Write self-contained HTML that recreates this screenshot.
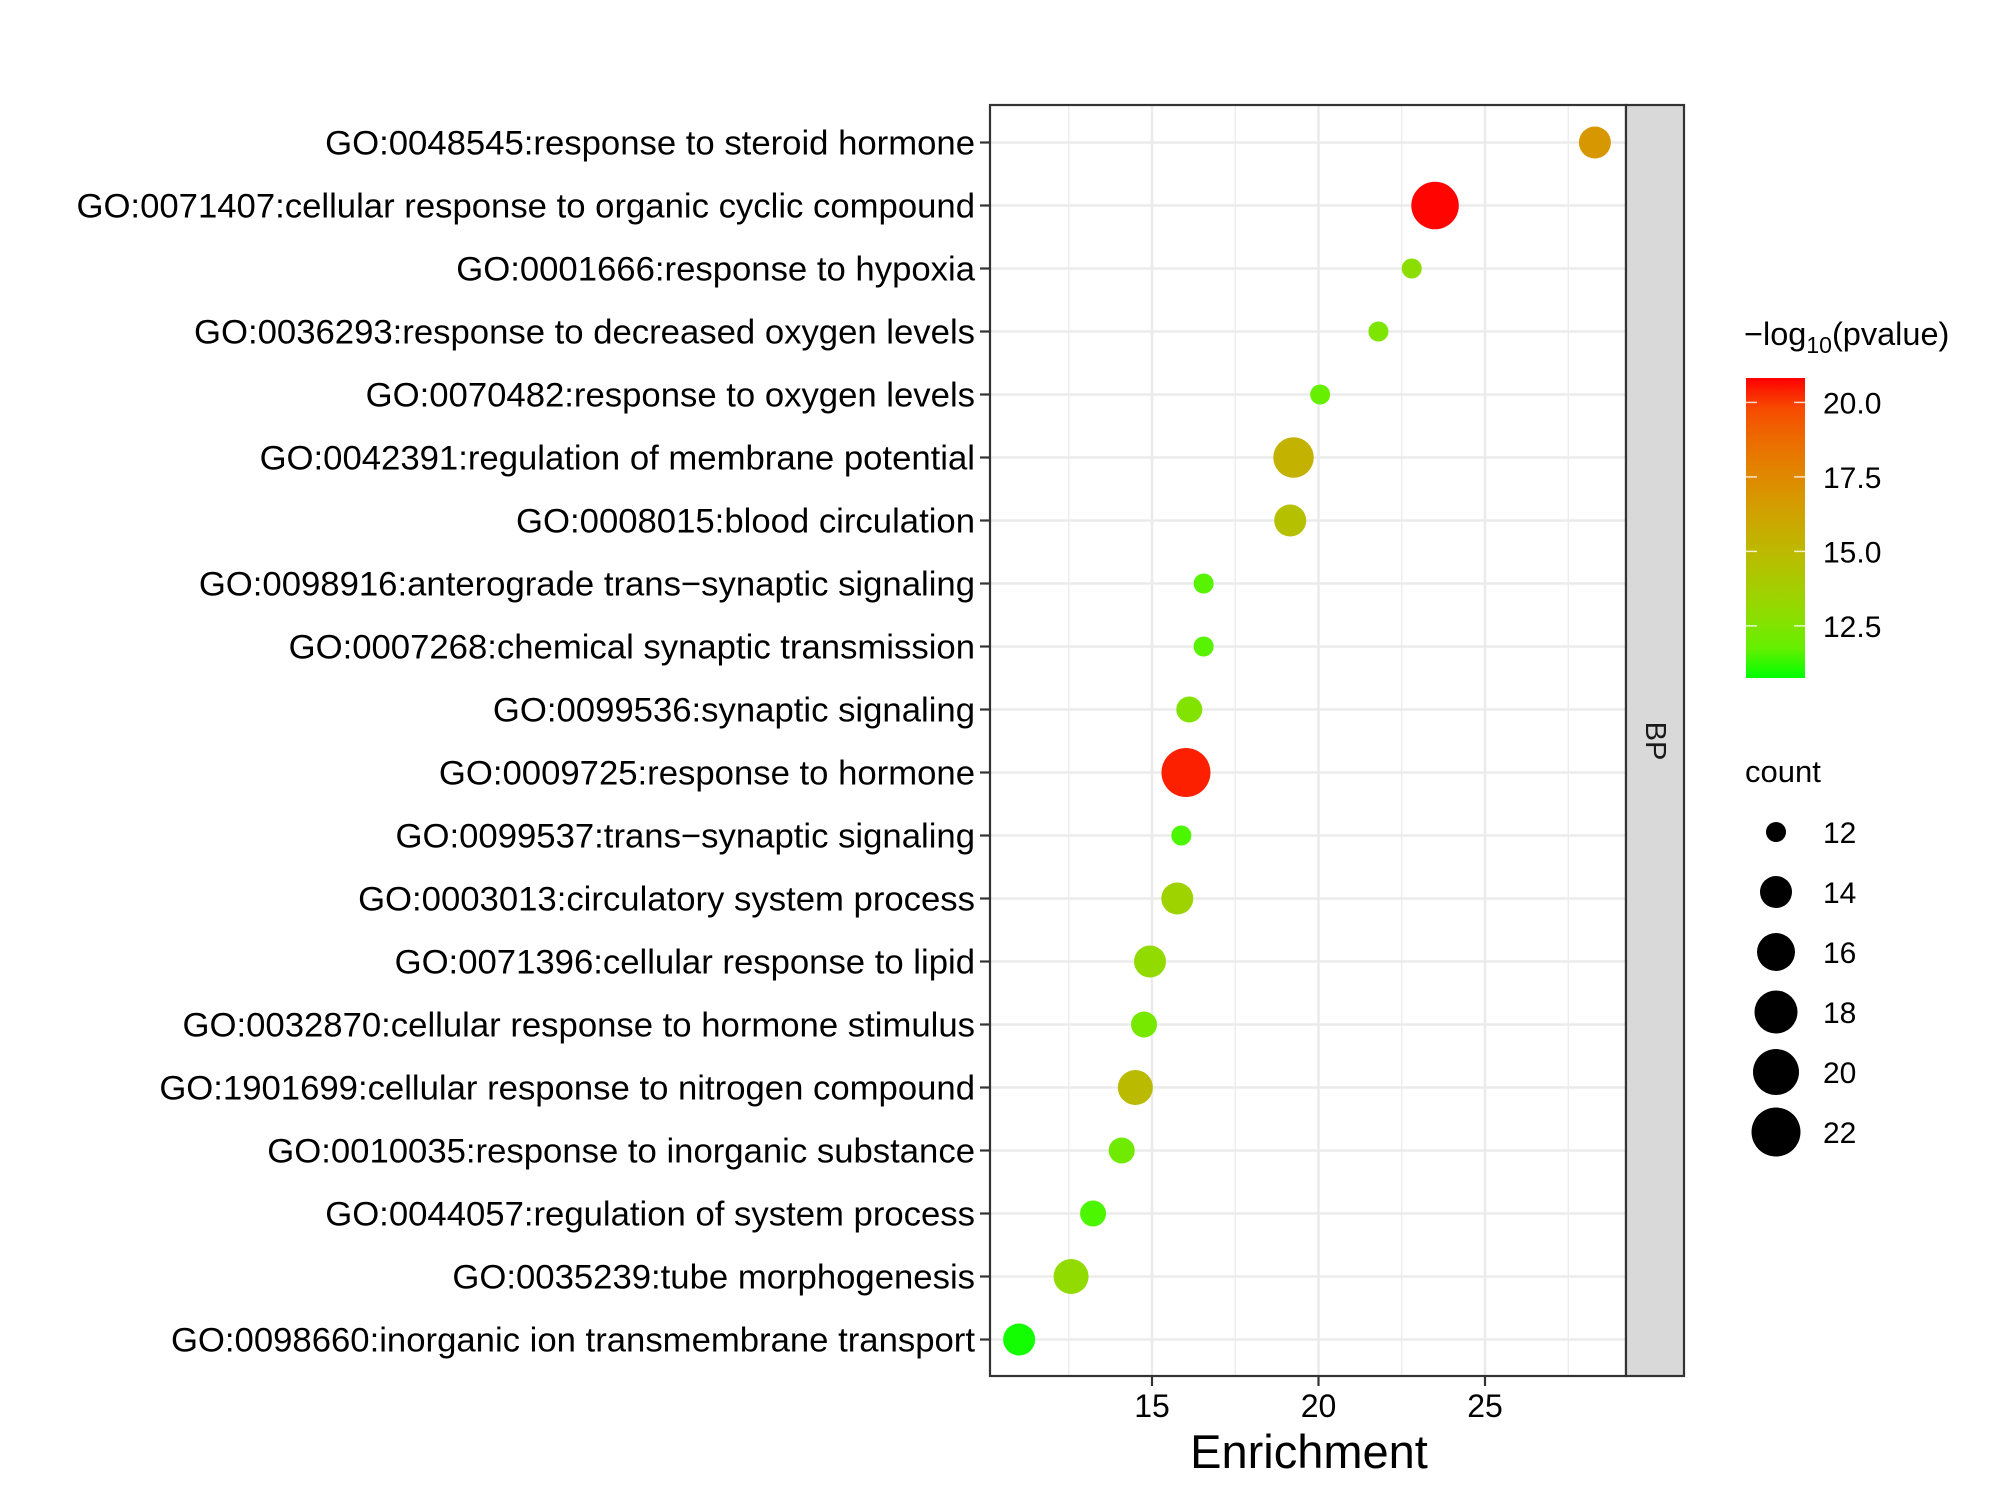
<!DOCTYPE html>
<html><head><meta charset="utf-8"><style>
html,body{margin:0;padding:0;background:#fff}
svg{display:block;font-family:"Liberation Sans",Arial,sans-serif}
</style></head><body>
<svg id="chart" width="2000" height="1500" viewBox="0 0 2000 1500" xmlns="http://www.w3.org/2000/svg">
<rect x="0" y="0" width="2000" height="1500" fill="#fff"/>
<g id="grid"></g>
<g id="points"></g>
<g id="axes"></g>
<g id="legend"></g>
</svg>
<script>
const terms = [
"GO:0048545:response to steroid hormone",
"GO:0071407:cellular response to organic cyclic compound",
"GO:0001666:response to hypoxia",
"GO:0036293:response to decreased oxygen levels",
"GO:0070482:response to oxygen levels",
"GO:0042391:regulation of membrane potential",
"GO:0008015:blood circulation",
"GO:0098916:anterograde trans\u2212synaptic signaling",
"GO:0007268:chemical synaptic transmission",
"GO:0099536:synaptic signaling",
"GO:0009725:response to hormone",
"GO:0099537:trans\u2212synaptic signaling",
"GO:0003013:circulatory system process",
"GO:0071396:cellular response to lipid",
"GO:0032870:cellular response to hormone stimulus",
"GO:1901699:cellular response to nitrogen compound",
"GO:0010035:response to inorganic substance",
"GO:0044057:regulation of system process",
"GO:0035239:tube morphogenesis",
"GO:0098660:inorganic ion transmembrane transport"];
const enrichment = [28.3,23.5,22.8,21.8,20.05,19.25,19.15,16.55,16.55,16.12,16.02,15.88,15.76,14.94,14.76,14.5,14.09,13.23,12.57,11.01];
const counts = [14,21,12,12,12,17,14,12,12,13,22,12,14,14,13,15,13,13,15,14];
const pvals = [16.8,20.8,12.8,12.4,11.8,15.4,14.6,11.5,11.5,12.5,20.6,11.3,13.5,13.0,12.2,14.9,12.0,11.3,13.0,10.8];
const xTicks = [15,20,25];
const colorTicks = [20.0,17.5,15.0,12.5];
const sizeTicks = [12,14,16,18,20,22];
const sizeRadii = [10,16,19,21.5,23,24.5];

const NS="http://www.w3.org/2000/svg";
function mk(tag, attrs, parent, text){const e=document.createElementNS(NS,tag);for(const k in attrs)e.setAttribute(k,attrs[k]);if(text!==undefined)e.textContent=text;parent.appendChild(e);return e;}
const P={l:990,r:1626,t:105,b:1376};
const unit=33.3;
const xS=v=>1152+(v-15)*unit;
const yS=i=>142.5+i*63.0;
const cMin=10.75,cMax=20.82;
const cbTop=378,cbBot=678;
const cY=v=>cbBot-(v-cMin)/(cMax-cMin)*(cbBot-cbTop);
function rS(c){if(c<=sizeTicks[0])return sizeRadii[0]-(sizeTicks[0]-c)*3;for(let i=1;i<sizeTicks.length;i++){if(c<=sizeTicks[i]){const t=(c-sizeTicks[i-1])/(sizeTicks[i]-sizeTicks[i-1]);return sizeRadii[i-1]+t*(sizeRadii[i]-sizeRadii[i-1]);}}return sizeRadii[sizeRadii.length-1];}
function srgb2lin(c){c/=255;return c<=0.04045?c/12.92:Math.pow((c+0.055)/1.055,2.4);}
function lin2srgb(c){c=c<=0.0031308?12.92*c:1.055*Math.pow(c,1/2.4)-0.055;return Math.max(0,Math.min(255,Math.round(c*255)));}
function toLab(r,g,b){r=srgb2lin(r);g=srgb2lin(g);b=srgb2lin(b);let X=(0.4124*r+0.3576*g+0.1805*b)/0.95047,Y=0.2126*r+0.7152*g+0.0722*b,Z=(0.0193*r+0.1192*g+0.9505*b)/1.08883;const f=t=>t>0.008856?Math.cbrt(t):7.787*t+16/116;const fx=f(X),fy=f(Y),fz=f(Z);return[116*fy-16,500*(fx-fy),200*(fy-fz)];}
function fromLab(L,a,b){const fy=(L+16)/116,fx=fy+a/500,fz=fy-b/200;const inv=t=>t*t*t>0.008856?t*t*t:(t-16/116)/7.787;const X=inv(fx)*0.95047,Y=inv(fy),Z=inv(fz)*1.08883;const r=3.2406*X-1.5372*Y-0.4986*Z,g=-0.9689*X+1.8758*Y+0.0415*Z,bb=0.0557*X-0.2040*Y+1.0570*Z;return `rgb(${lin2srgb(r)},${lin2srgb(g)},${lin2srgb(bb)})`;}
const LG=toLab(0,255,0),LR=toLab(255,0,0);
function col(v){let t=(v-cMin)/(cMax-cMin);t=Math.max(0,Math.min(1,t));return fromLab(LG[0]+t*(LR[0]-LG[0]),LG[1]+t*(LR[1]-LG[1]),LG[2]+t*(LR[2]-LG[2]));}

const grid=document.getElementById('grid');
for(let v=12.5;v<29;v+=5){const l=mk('line',{x1:xS(v),x2:xS(v),y1:P.t,y2:P.b,stroke:'#ebebeb','stroke-width':1.3},grid);

}
xTicks.forEach(v=>{const l=mk('line',{x1:xS(v),x2:xS(v),y1:P.t,y2:P.b,stroke:'#ebebeb','stroke-width':2.6},grid);

});
terms.forEach((t,i)=>{const l=mk('line',{x1:P.l,x2:P.r,y1:yS(i),y2:yS(i),stroke:'#ebebeb','stroke-width':2.6},grid);

});

const pts=document.getElementById('points');
terms.forEach((t,i)=>{const c=mk('circle',{cx:xS(enrichment[i]),cy:yS(i),r:rS(counts[i]),fill:col(pvals[i])},pts);

});

const ax=document.getElementById('axes');
const pb=mk('rect',{x:P.l,y:P.t,width:P.r-P.l,height:P.b-P.t,fill:'none',stroke:'#333','stroke-width':2.2},ax);


const strip=mk('rect',{x:P.r,y:P.t,width:1684-P.r,height:P.b-P.t,fill:'#d9d9d9',stroke:'#333','stroke-width':2.2},ax);


const bp=mk('text',{x:0,y:0,transform:`translate(1655,741) rotate(90)`,'text-anchor':'middle','dominant-baseline':'central','font-size':29,fill:'#1a1a1a'},ax,'BP');


terms.forEach((t,i)=>{mk('line',{x1:P.l-10,x2:P.l,y1:yS(i),y2:yS(i),stroke:'#333','stroke-width':2.2},ax);
const tx=mk('text',{x:P.l-15,y:yS(i)+12,'text-anchor':'end','font-size':34.7,fill:'#000'},ax,t);

});
xTicks.forEach(v=>{mk('line',{x1:xS(v),x2:xS(v),y1:P.b,y2:P.b+10,stroke:'#333','stroke-width':2.2},ax);
const tx=mk('text',{x:xS(v),y:1417,'text-anchor':'middle','font-size':32,fill:'#000'},ax,String(v));

});
const xt=mk('text',{x:1309,y:1468,'text-anchor':'middle','font-size':47,fill:'#000'},ax,'Enrichment');



const lg=document.getElementById('legend');
const ct=mk('text',{x:1744,y:345,'font-size':32.5,fill:'#000'},lg);


ct.innerHTML='\u2212log<tspan font-size="23" dy="8">10</tspan><tspan dy="-8">(pvalue)</tspan>';
const defs=mk('defs',{},lg);
const gr=mk('linearGradient',{id:'cb',x1:0,y1:1,x2:0,y2:0},defs);
for(let k=0;k<=10;k++){mk('stop',{offset:k/10,'stop-color':col(cMin+k/10*(cMax-cMin))},gr);}
const cb=mk('rect',{x:1746,y:cbTop,width:59,height:cbBot-cbTop,fill:'url(#cb)'},lg);


colorTicks.forEach(v=>{mk('line',{x1:1746,x2:1757,y1:cY(v),y2:cY(v),stroke:'#fff','stroke-width':1.5,opacity:0.8},lg);
mk('line',{x1:1794,x2:1805,y1:cY(v),y2:cY(v),stroke:'#fff','stroke-width':1.5,opacity:0.8},lg);
const tx=mk('text',{x:1823,y:cY(v)+11,'font-size':30,fill:'#000'},lg,v.toFixed(1));

});
const st=mk('text',{x:1745,y:782,'font-size':31,fill:'#000'},lg,'count');


sizeTicks.forEach((s,i)=>{const y=832+i*60;
const c=mk('circle',{cx:1776,cy:y,r:rS(s),fill:'#000'},lg);


const tx=mk('text',{x:1823,y:y+11,'font-size':30,fill:'#000'},lg,String(s));

});
</script>
</body></html>
